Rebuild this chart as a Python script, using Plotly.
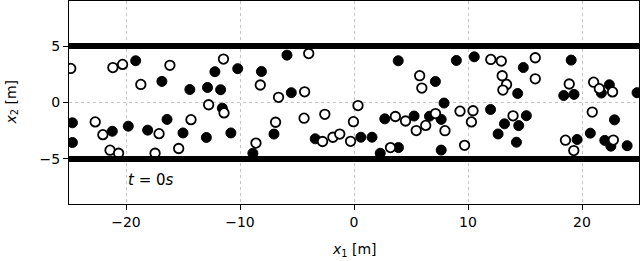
import plotly.graph_objects as go

# Particle positions at t = 0 s
filled_x = [-24.7, -24.7, -21.2, -19.8, -19.15, -18.1, -16.85, -16.4, -15.0, -14.4,
            -12.95, -12.85, -12.2, -11.7, -11.55, -10.8, -10.2, -8.87, -8.12, -7.02,
            -5.88, -5.5, -3.4, 0.6, 1.58, 2.3, 2.7, 3.88, 3.9, 5.27,
            6.62, 7.14, 7.65, 7.65, 7.9, 8.98, 10.55, 11.98, 12.64, 13.2,
            14.25, 14.36, 14.45, 14.85, 15.12, 18.4, 19.05, 19.3, 19.57, 20.73,
            21.7, 22.0, 22.4, 22.53, 22.85, 23.96, 24.83]
filled_y = [-1.8, -3.55, -2.55, -2.1, 3.7, -2.45, 1.87, -1.5, -2.7, 1.15,
            -3.1, 1.33, 2.73, 1.13, -0.5, -2.7, 3.0, -4.5, 2.75, -2.8,
            4.2, 0.87, -3.22, -3.08, -3.08, -4.5, -1.45, 3.7, -4.0, -1.2,
            -1.22, 1.86, -1.5, -4.22, -0.05, 3.73, 4.05, -0.62, -2.79, -1.89,
            -3.52, 0.8, -2.05, 3.1, -1.17, 0.62, 3.76, 0.72, -3.28, -2.72,
            0.84, -3.36, 1.57, -3.87, -1.54, -3.83, 0.87]

open_x = [-24.85, -22.7, -22.03, -21.15, -21.4, -20.3, -20.65, -18.7, -17.1, -17.45,
          -16.15, -15.38, -14.3, -12.75, -11.45, -11.4, -8.6, -8.22, -6.88, -6.62,
          -4.38, -4.33, -3.97, -2.56, -2.76, -1.85, -1.25, -0.3, -0.05, 0.35,
          3.2, 3.63, 4.52, 5.46, 5.76, 5.95, 6.29, 7.15, 7.98, 9.3,
          9.7, 10.44, 10.3, 12.0, 12.92, 13.0, 13.38, 13.06, 13.95, 15.9,
          15.9, 18.55, 18.88, 19.28, 20.9, 21.02, 21.52, 22.68, 22.75]
open_y = [3.02, -1.72, -2.85, 3.1, -4.23, 3.38, -4.5, 1.6, -2.76, -4.5,
          3.3, -4.08, -1.52, -0.2, 3.85, -0.92, -3.6, 1.55, -1.75, 0.46,
          -1.39, 0.95, 4.34, -1.05, -3.46, -3.08, -2.8, -3.44, -1.7, -0.27,
          -4.0, -1.24, -1.64, -2.49, 2.38, 1.28, -2.03, -0.98, -2.5, -0.77,
          -3.8, -0.73, -1.72, 3.82, 3.67, 2.37, 1.6, 1.1, -1.18, 3.97,
          2.1, -3.34, 1.64, -4.26, -0.85, 1.8, 1.23, 0.94, -3.33]

wall_y = [5, -5]
x_ticks = [-20, -10, 0, 10, 20]
y_ticks = [-5, 0, 5]
x_range = [-25, 25]
y_range = [-9, 9]

FONT = "DejaVu Sans"

fig = go.Figure()
fig.add_trace(go.Scatter(
    x=filled_x, y=filled_y, mode="markers",
    marker=dict(symbol="circle", size=10, color="black",
                line=dict(color="black", width=1)),
    showlegend=False, cliponaxis=True))
fig.add_trace(go.Scatter(
    x=open_x, y=open_y, mode="markers",
    marker=dict(symbol="circle", size=9.5, color="white",
                line=dict(color="black", width=1.8)),
    showlegend=False, cliponaxis=True))

for w in wall_y:
    fig.add_shape(type="line", xref="x domain", yref="y",
                  x0=0, x1=1, y0=w, y1=w,
                  line=dict(color="black", width=6), layer="above")

fig.add_annotation(x=-20, y=-6.85, xref="x", yref="y",
                   text="<i>t</i> = 0<i>s</i>", showarrow=False,
                   xanchor="left", yanchor="middle",
                   font=dict(family=FONT, size=15, color="black"))

axis_common = dict(
    showline=True, linecolor="black", linewidth=1, mirror=True,
    ticks="outside", ticklen=5, tickwidth=1, tickcolor="black",
    showgrid=True, gridcolor="#c4c4c4", gridwidth=1, griddash="dot",
    zeroline=False, tickfont=dict(family=FONT, size=14, color="black"),
)

fig.update_xaxes(range=x_range, tickvals=x_ticks,
                 ticktext=[str(v).replace("-", "\u2212") for v in x_ticks],
                 **axis_common)
fig.update_yaxes(range=y_range, tickvals=y_ticks,
                 ticktext=[str(v).replace("-", "\u2212") for v in y_ticks],
                 **axis_common)

fig.add_annotation(x=0.5, y=0.0, xref="paper", yref="paper",
                   text="<i>x</i><sub>1</sub> [m]", showarrow=False,
                   xanchor="center", yanchor="top", yshift=-35,
                   font=dict(family=FONT, size=14, color="black"))
fig.add_annotation(x=0, y=0.5, xref="paper", yref="paper",
                   text="<i>x</i><sub>2</sub> [m]", showarrow=False,
                   textangle=-90, xanchor="right", yanchor="middle", xshift=-47,
                   font=dict(family=FONT, size=14, color="black"))

fig.update_layout(
    width=640, height=261,
    margin=dict(l=69, r=1, t=1, b=57, autoexpand=False),
    plot_bgcolor="white", paper_bgcolor="white",
    font=dict(family=FONT, color="black"),
)

fig.write_html("out.html", config={"displayModeBar": False},
               post_script="document.body.style.margin='0';document.body.style.overflow='hidden';")
